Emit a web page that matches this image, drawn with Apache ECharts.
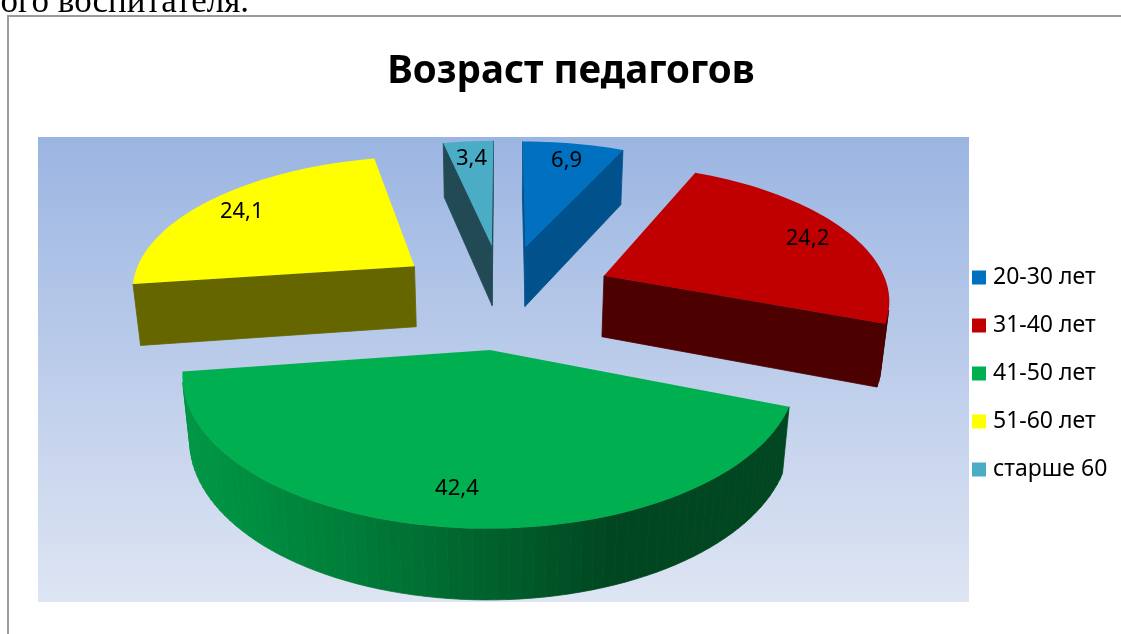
<!DOCTYPE html>
<html>
<head>
<meta charset="utf-8">
<script src="https://cdn.jsdelivr.net/npm/echarts@6/dist/echarts.min.js"></script>
<style>
html, body { margin: 0; padding: 0; background: #fff; }
#chart { width: 1121px; height: 634px; }
</style>
</head>
<body>
<div id="chart"></div>
<script>
// данные диаграммы
const categories = ['20-30 лет', '31-40 лет', '41-50 лет', '51-60 лет', 'старше 60'];
const values = [6.9, 24.2, 42.4, 24.1, 3.4];
const topColors = ['#0070C0', '#C00000', '#00B050', '#FFFF00', '#4BACC6'];
const sideColors = ['#01528C', '#4C0000', '#006630', '#666600', '#214A55'];

const total = values.reduce((a, b) => a + b, 0);
const starts = [];
let acc = 0;
values.forEach(v => { starts.push(acc); acc += v; });

// параметры объёмного вида (перспектива как в Excel)
const view = { cx: 503, cy: 357, f: 1680, dist: 6, tilt: 30 * Math.PI / 180, thick: 0.25, explode: 0.39 };
const sinT = Math.sin(view.tilt), cosT = Math.cos(view.tilt);
const cam = [0, -view.dist * cosT];

function project(x, z, h) {
  const yc = z * sinT + h * cosT;
  const dc = view.dist + z * cosT - h * sinT;
  return [view.cx + view.f * x / dc, view.cy - view.f * yc / dc];
}

function shade(hex, k) {
  const n = parseInt(hex.slice(1), 16);
  const r = Math.round(((n >> 16) & 255) * k), g = Math.round(((n >> 8) & 255) * k), b = Math.round((n & 255) * k);
  return 'rgb(' + r + ',' + g + ',' + b + ')';
}

function facing(nx, nz, px, pz) {
  return nx * (cam[0] - px) + nz * (cam[1] - pz) > 0;
}

function renderSlice(i, api) {
  const v = api.value(0), s = api.value(1);
  const a0 = s / total * 2 * Math.PI, a1 = (s + v) / total * 2 * Math.PI;
  const mid = (a0 + a1) / 2;
  const ox = view.explode * Math.sin(mid), oz = view.explode * Math.cos(mid);
  const T = view.thick;
  const n = Math.max(2, Math.ceil((a1 - a0) / (Math.PI / 90)));
  const rim = [];
  for (let k = 0; k <= n; k++) {
    const a = a0 + (a1 - a0) * k / n;
    rim.push([a, ox + Math.sin(a), oz + Math.cos(a)]);
  }
  const faces = [];
  const poly = (pts, color) => faces.push({
    type: 'polygon', shape: { points: pts },
    style: { fill: color, stroke: color, lineWidth: 0.8 }
  });

  // боковые срезы
  const cut = (a, nx, nz) => {
    if (!facing(nx, nz, ox + 0.5 * Math.sin(a), oz + 0.5 * Math.cos(a))) return;
    const rx = ox + Math.sin(a), rz = oz + Math.cos(a);
    poly([project(ox, oz, T), project(rx, rz, T), project(rx, rz, 0), project(ox, oz, 0)], sideColors[i]);
  };
  cut(a0, -Math.cos(a0), Math.sin(a0));
  cut(a1, Math.cos(a1), -Math.sin(a1));

  // внешняя стенка
  for (let k = 0; k < n; k++) {
    const am = (rim[k][0] + rim[k + 1][0]) / 2;
    const nx = Math.sin(am), nz = Math.cos(am);
    if (!facing(nx, nz, ox + nx, oz + nz)) continue;
    const light = 0.4 + 0.45 * Math.max(0, Math.cos(am - 250 * Math.PI / 180));
    poly([
      project(rim[k][1], rim[k][2], T), project(rim[k + 1][1], rim[k + 1][2], T),
      project(rim[k + 1][1], rim[k + 1][2], 0), project(rim[k][1], rim[k][2], 0)
    ], shade(topColors[i], light));
  }

  // верхняя грань
  const top = [project(ox, oz, T)];
  rim.forEach(p => top.push(project(p[1], p[2], T)));
  faces.push({ type: 'polygon', shape: { points: top }, style: { fill: topColors[i] } });

  // подпись значения
  const fr = v < 30 ? 0.84 : 0.8;
  const lp = project(ox + fr * Math.sin(mid), oz + fr * Math.cos(mid), T);
  faces.push({
    type: 'text', x: lp[0], y: lp[1] + 2,
    style: {
      text: v.toFixed(1).replace('.', ','), fill: '#000',
      font: '22px "Noto Sans"', align: 'center', verticalAlign: 'middle'
    }
  });
  return { type: 'group', children: faces };
}

const series = categories.map((name, i) => {
  const mid = (starts[i] + values[i] / 2) / total * 2 * Math.PI;
  return {
    type: 'custom',
    name: name,
    coordinateSystem: 'none',
    z: 5 + Math.round(5 - 4 * Math.cos(mid)),
    itemStyle: { color: topColors[i] },
    data: [[values[i], starts[i]]],
    renderItem: (params, api) => renderSlice(i, api),
    silent: true
  };
});

const chart = echarts.init(document.getElementById('chart'));
chart.setOption({
  animation: false,
  backgroundColor: '#fff',
  title: {
    text: 'Возраст педагогов',
    left: 571,
    textAlign: 'center',
    top: 53,
    padding: 0,
    textStyle: { fontFamily: 'Noto Sans', fontWeight: 'bold', fontSize: 38.5, color: '#000' }
  },
  legend: {
    data: categories,
    orient: 'vertical',
    left: 972,
    top: 266,
    padding: 0,
    itemGap: 25,
    itemWidth: 14,
    itemHeight: 14,
    icon: 'rect',
    textStyle: { fontFamily: 'Noto Sans', fontSize: 23, color: '#000', lineHeight: 22, padding: [0, 0, 0, 2] }
  },
  graphic: [
    {
      type: 'text', x: 249, y: 3, z: 1,
      style: { text: 'ного воспитателя.', font: '35px "Liberation Serif"', fill: '#000', align: 'right', verticalAlign: 'middle' }
    },
    {
      type: 'polyline', z: 1,
      shape: { points: [[8, 634], [8, 16], [1121, 16]] },
      style: { stroke: '#9a9a9a', lineWidth: 2, fill: null }
    },
    {
      type: 'rect', z: 0,
      shape: { x: 38, y: 137, width: 931, height: 465 },
      style: {
        fill: new echarts.graphic.LinearGradient(0, 0, 0, 1, [
          { offset: 0, color: '#9BB5E2' },
          { offset: 1, color: '#DEE5F3' }
        ])
      }
    }
  ],
  series: series
});
</script>
</body>
</html>
